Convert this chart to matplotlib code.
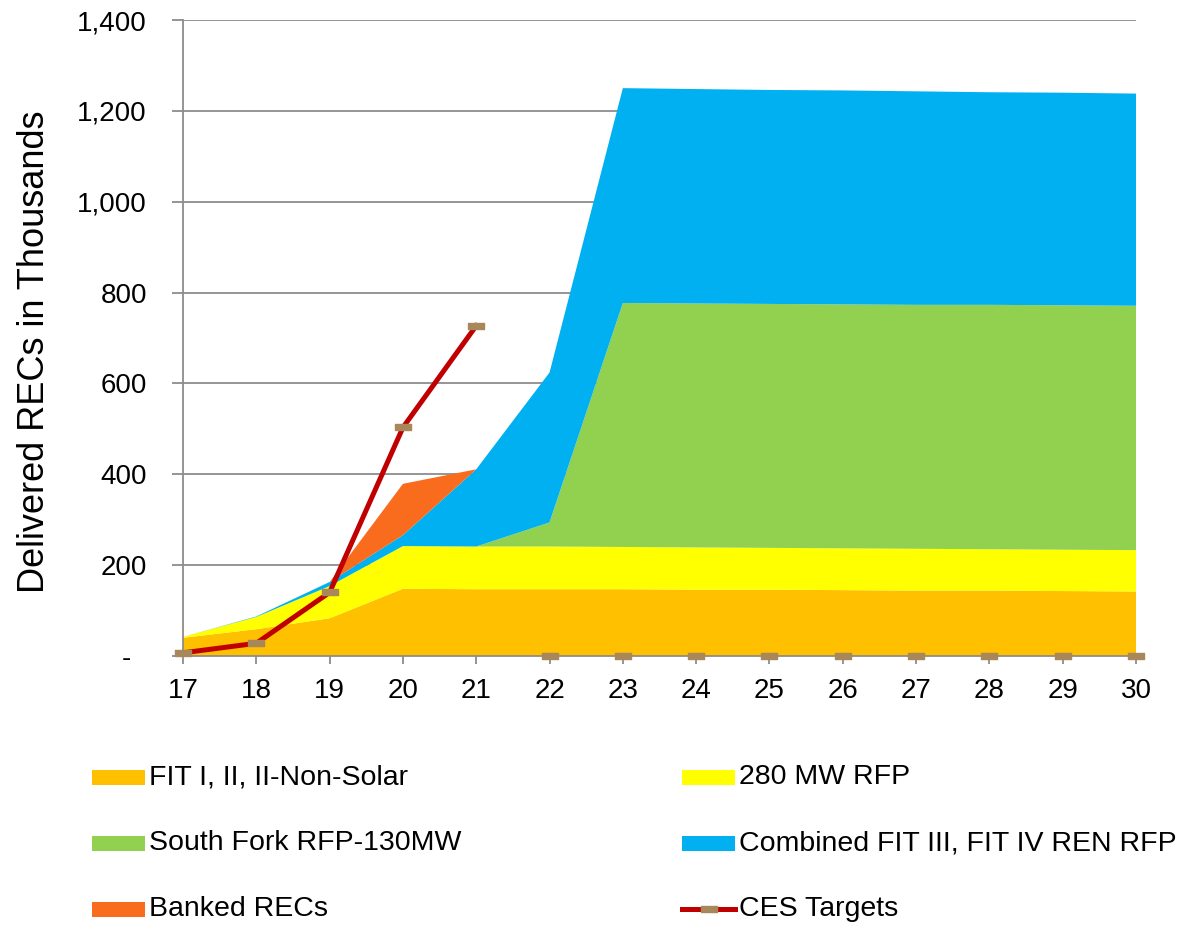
import matplotlib
matplotlib.use("Agg")
import matplotlib.pyplot as plt
from matplotlib.patches import Rectangle
from matplotlib.lines import Line2D
from matplotlib.path import Path
import numpy as np

years = ["17", "18", "19", "20", "21", "22", "23", "24", "25", "26", "27", "28", "29", "30"]
fit_i_ii = [40, 59, 83, 148, 147, 147, 147, 146, 146, 145, 144, 144, 143, 142]
rfp_280 = [2, 27, 71, 94, 94, 94, 93, 93, 92, 92, 92, 91, 91, 91]
south_fork = [0, 0, 0, 0, 0, 53, 537, 537, 537, 537, 537, 538, 538, 538]
combined_fit = [0, 1, 9, 24, 170, 330, 473, 472, 471, 471, 470, 468, 468, 467]
banked = [0, 0, 0, 113, 0, 0, 0, 0, 0, 0, 0, 0, 0, 0]
ces_years = ["17", "18", "19", "20", "21"]
ces_targets = [7, 28, 140, 503, 727]
ces_zero_years = ["22", "23", "24", "25", "26", "27", "28", "29", "30"]
ces_zero = [0, 0, 0, 0, 0, 0, 0, 0, 0]

series_labels = ["FIT I, II, II-Non-Solar", "280 MW RFP", "South Fork RFP-130MW",
                 "Combined FIT III, FIT IV REN RFP", "Banked RECs", "CES Targets"]
colors = ["#FFC000", "#FFFF00", "#92D050", "#00B0F0", "#F96B1D"]
line_color = "#C00000"
marker_color = "#A8875A"
grid_color = "#8C8C8C"

font = "Liberation Sans"

fig = plt.figure(figsize=(11.9, 9.26), dpi=100)
ax = fig.add_axes([183/1190, 1-656/926, (1136-183)/1190, (656-20)/926])

x = np.arange(len(years))
ax.stackplot(x, fit_i_ii, rfp_280, south_fork, combined_fit, banked,
             colors=colors, linewidth=0, zorder=2)

idx = {y: i for i, y in enumerate(years)}
rect = Path([(-1, -0.45), (1, -0.45), (1, 0.45), (-1, 0.45), (-1, -0.45)],
            [Path.MOVETO, Path.LINETO, Path.LINETO, Path.LINETO, Path.CLOSEPOLY])
ax.plot([idx[y] for y in ces_years], ces_targets, color=line_color, lw=3.6,
        marker=rect, markersize=11, markerfacecolor=marker_color,
        markeredgecolor=marker_color, zorder=4, clip_on=False)
ax.plot([idx[y] for y in ces_zero_years], ces_zero, linestyle="none",
        marker=rect, markersize=11, markerfacecolor=marker_color,
        markeredgecolor=marker_color, zorder=5, clip_on=False)

ax.set_xlim(0, len(years) - 1)
ax.set_ylim(0, 1400)
ax.set_yticks(np.arange(0, 1401, 200))
ax.set_yticklabels(["-  " if v == 0 else f"{v:,}" for v in range(0, 1401, 200)])
ax.set_xticks(x)
ax.set_xticklabels(years)
ax.yaxis.grid(True, color=grid_color, lw=1.3, zorder=0)
ax.set_axisbelow(True)
for s in ["top", "right"]:
    ax.spines[s].set_visible(False)
for s in ["left", "bottom"]:
    ax.spines[s].set_color(grid_color)
    ax.spines[s].set_linewidth(1.3)
ax.tick_params(axis="y", length=8, width=1.3, color=grid_color, pad=18,
               labelsize=20)
ax.tick_params(axis="x", length=6, width=1.3, color=grid_color, pad=10,
               labelsize=20)
for lab in ax.get_xticklabels() + ax.get_yticklabels():
    lab.set_fontfamily(font)

fig.text(35/1190, 1-352/926, "Delivered RECs in Thousands", fontsize=26,
         fontfamily=font, rotation=90, ha="center", va="center")

# legend (manual, row-major, 2 columns)
col_x = [92, 682]
row_y = [777, 843, 909]
pw, ph = 53, 15
for i, lab in enumerate(series_labels):
    r, c = divmod(i, 2)
    x0 = col_x[c] / 1190
    yc = 1 - row_y[r] / 926
    if i < 5:
        fig.patches.append(Rectangle((x0, yc - ph/2/926), pw/1190, ph/926,
                                     transform=fig.transFigure,
                                     facecolor=colors[i], edgecolor="none"))
    else:
        fig.lines.append(Line2D([x0, x0 + pw/1190], [yc, yc], transform=fig.transFigure,
                                color=line_color, lw=3.6))
        fig.lines.append(Line2D([x0 + pw/2/1190], [yc], transform=fig.transFigure,
                                marker=rect, markersize=11, linestyle="none",
                                markerfacecolor=marker_color, markeredgecolor=marker_color))
    fig.text(x0 + (pw + 4)/1190, yc, lab, fontsize=20.5, fontfamily=font,
             va="center", ha="left")

fig.savefig("out.png", dpi=100)
